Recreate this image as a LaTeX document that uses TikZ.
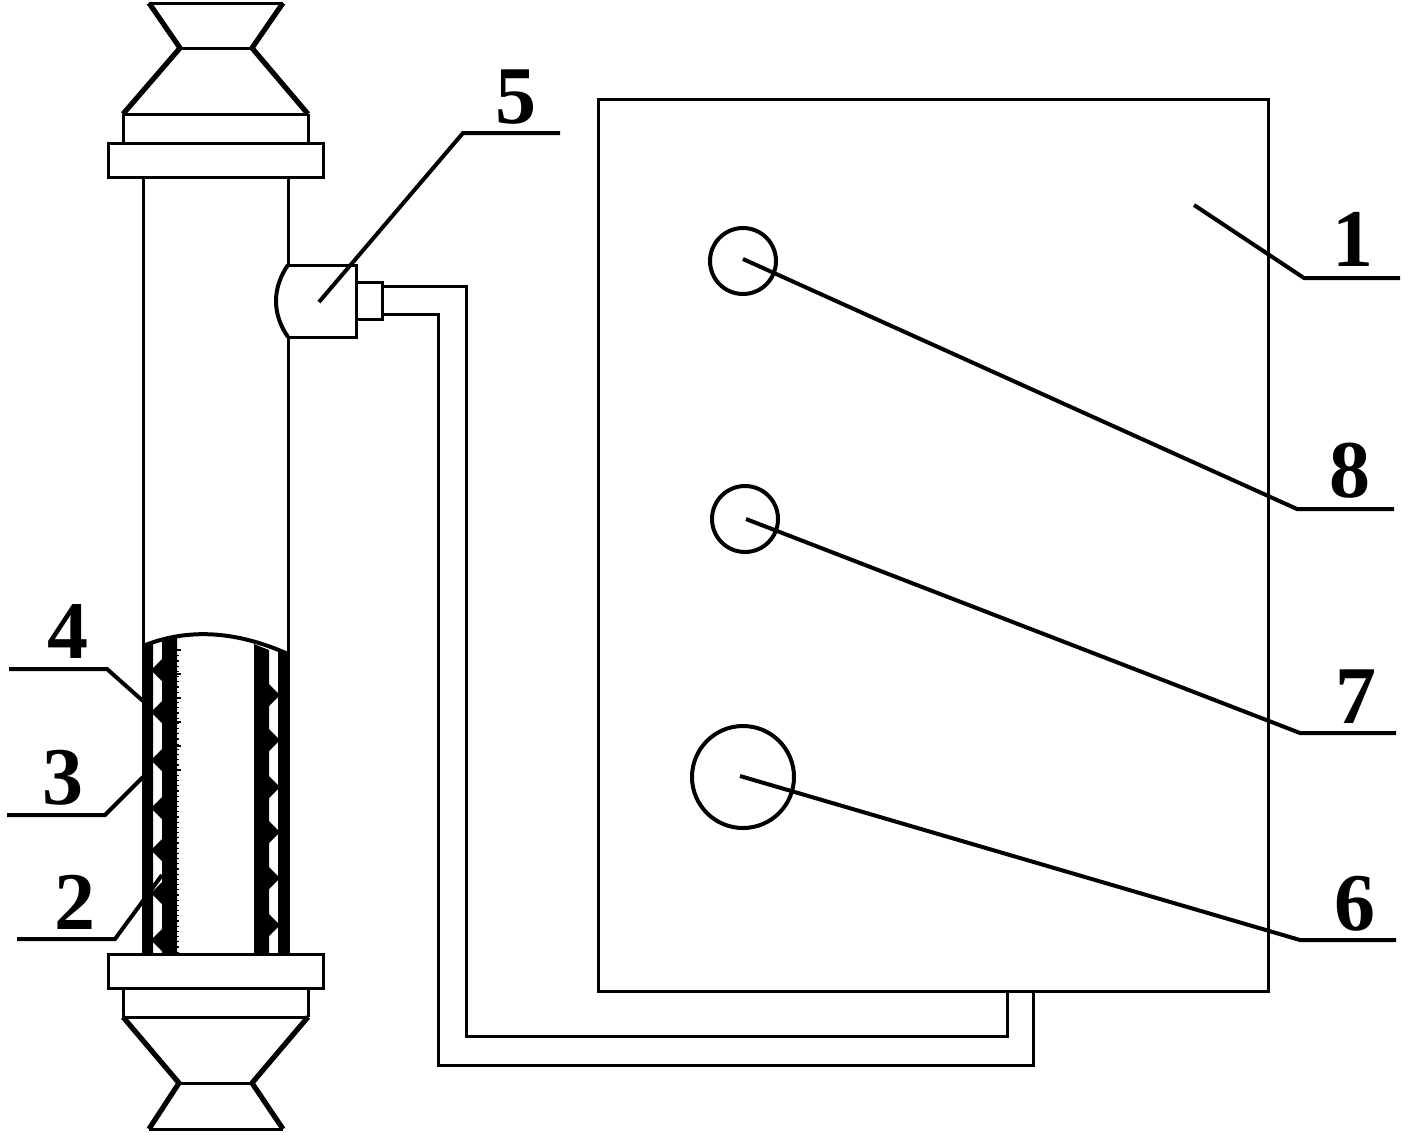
\documentclass[tikz,border=0pt]{standalone}
\usepackage{fontspec}
\setmainfont{Liberation Serif}
\usetikzlibrary{positioning}

\tikzset{
  num/.style={inner sep=0pt, font=\fontsize{41}{41}\selectfont\bfseries},
  ring/.style={circle, draw, line width=2pt, inner sep=0pt},
  lead/.style={line width=2pt, line join=miter},
  funnel/.style={line width=2.6pt, line join=round},
  plate/.style={draw, inner sep=0pt, line width=1.5pt},
  wallfill/.style={fill=black, draw=none}
}

\begin{document}
\begin{tikzpicture}[x=0.5pt, y=-0.5pt, line width=1.5pt]
\useasboundingbox (0,0) rectangle (1408,1136);

% top funnel
\draw (149,3) -- (283,3);
\draw (180,48) -- (252,48);
\draw (123,114) -- (308,114);
\draw[funnel] (149,3) -- (180,48) -- (123,114);
\draw[funnel] (283,3) -- (252,48) -- (308,114);
\draw (123,114) -- (123,143);
\draw (308,114) -- (308,143);
\node[plate, minimum width=107.5pt, minimum height=17pt] (topflange) at (215.5,160) {};

% bottom funnel
\node[plate, minimum width=107.5pt, minimum height=17pt] (botflange) at (215.5,971) {};
\draw (123,988) -- (123,1017);
\draw (308,988) -- (308,1017);
\draw (123,1017) -- (308,1017);
\draw (179,1083) -- (252,1083);
\draw (149,1129) -- (283,1129);
\draw[funnel] (123,1017) -- (179,1083) -- (149,1129);
\draw[funnel] (308,1017) -- (252,1083) -- (283,1129);

% tube
\draw (143,177) -- (143,953);
\draw (288,177) -- (288,265);
\draw (288,337) -- (288,953);
\draw[line width=2pt] (143,646) .. controls (182,630) and (230,628) .. (288,654);

% walls
\fill[wallfill] (143,646) -- (153,643) -- (153,953) -- (143,953) -- cycle;
\fill[wallfill] (162,640) -- (177,638) -- (177,953) -- (162,953) -- cycle;
\fill[wallfill] (254,644) -- (269,650) -- (269,953) -- (254,953) -- cycle;
\fill[wallfill] (278,650) -- (289,654) -- (289,953) -- (278,953) -- cycle;
\foreach \y in {670,712,760,808,850,893,940}
  \fill[wallfill] (163,\y-12) -- (153,\y-2) -- (153,\y+2) -- (163,\y+12) -- cycle;
\foreach \y in {695,740,787,832,878,925}
  \fill[wallfill] (268,\y-12) -- (278,\y-2) -- (278,\y+2) -- (268,\y+12) -- cycle;
\foreach \y in {650,674,...,770}
  \draw[line width=0.8pt] (176,\y) -- (181,\y);
\draw[line width=0.6pt, dotted] (178,650) -- (178,953);

% valve
\draw (288,265) -- (356,265) -- (356,337) -- (288,337);
\draw[line width=2pt] (288,265) .. controls (272,288) and (272,314) .. (288,337);
\node[plate, minimum width=13pt, minimum height=18.5pt] (plug) at (369,300.5) {};

% hose
\draw (382,286) -- (466,286) -- (466,1036) -- (1007,1036) -- (1007,991);
\draw (382,314) -- (438,314) -- (438,1065) -- (1033,1065) -- (1033,991);

% box
\node[plate, minimum width=335pt, minimum height=446pt] (box) at (933,545) {};

% circles
\node[ring, minimum size=33pt] (c8) at (743,261) {};
\node[ring, minimum size=33pt] (c7) at (745,519) {};
\node[ring, minimum size=51pt] (c6) at (743,777) {};

% leaders
\coordinate (a1) at (1194,205);
\coordinate (a2) at (162,875);
\coordinate (a3) at (143,777);
\coordinate (a4) at (143,701);
\coordinate (a5) at (319,302);
\coordinate (a6) at (740,776);
\coordinate (a7) at (746,519);
\coordinate (a8) at (743,259);
\draw[lead] (a1) -- (1304,278) -- (1400,278);
\draw[lead] (a2) -- (115,939) -- (17,939);
\draw[lead] (a3) -- (105,815) -- (7,815);
\draw[lead] (a4) -- (107,669) -- (9,669);
\draw[lead] (a5) -- (463,133) -- (560,133);
\draw[lead] (a6) -- (1300,940) -- (1396,940);
\draw[lead] (a7) -- (1300,733) -- (1396,733);
\draw[lead] (a8) -- (1297,509) -- (1394,509);

% numbers
\node[num] (n1) at (1353,239) {1};
\node[num] (n2) at (75,902) {2};
\node[num] (n3) at (63,778) {3};
\node[num] (n4) at (68,632) {4};
\node[num] (n5) at (516,97) {5};
\node[num] (n6) at (1355,904) {6};
\node[num] (n7) at (1356,697) {7};
\node[num] (n8) at (1350,471) {8};

\end{tikzpicture}
\end{document}
